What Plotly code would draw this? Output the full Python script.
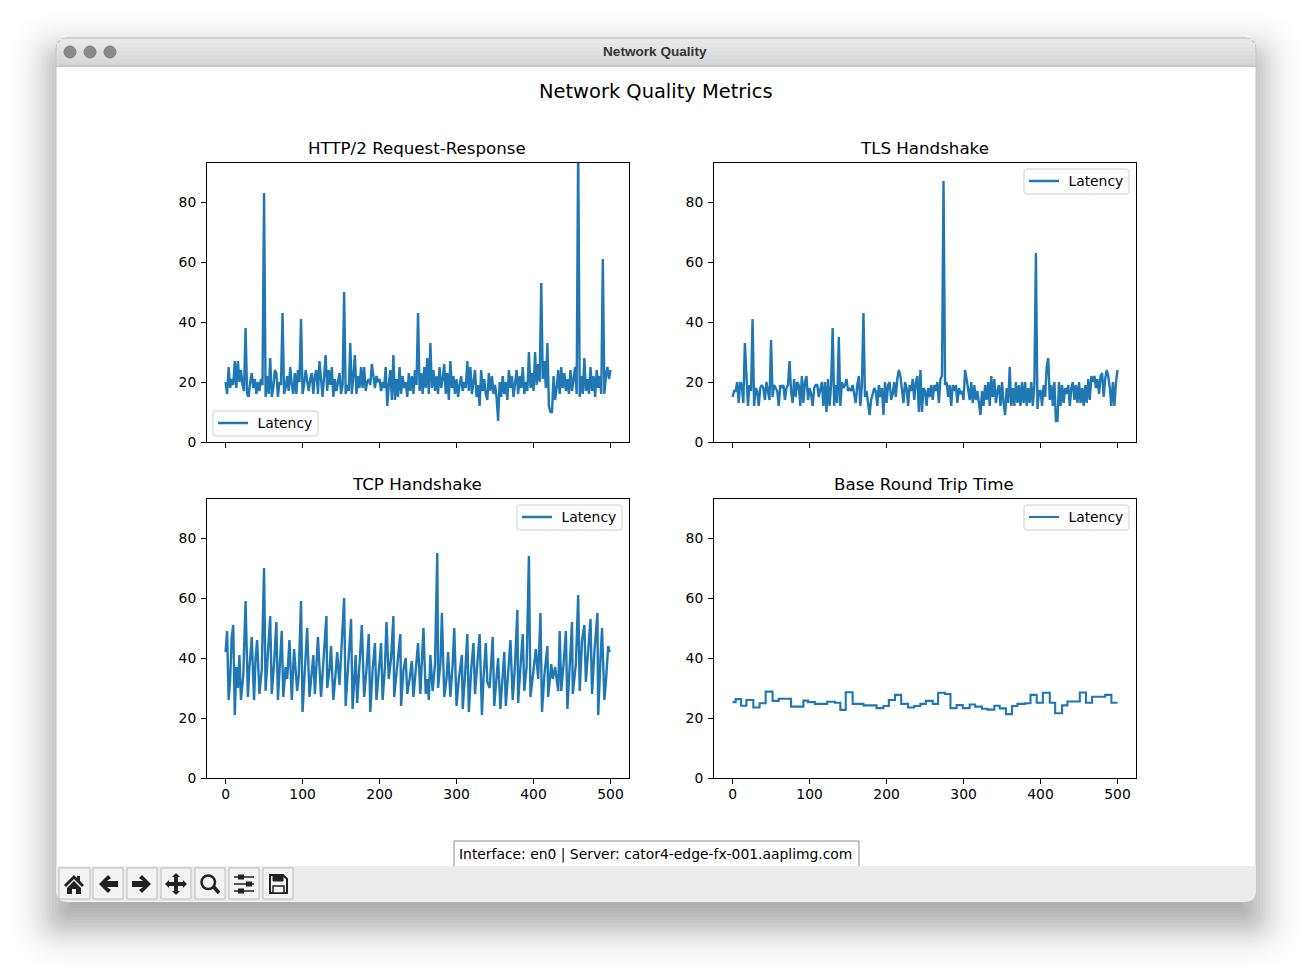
import re
import math
import numpy as np
import plotly.graph_objects as go

W, H = 1312, 976
BLUE = "#1f77b4"
FONT = "DejaVu Sans"

WINDOW_TITLE = "Network Quality"
SUPTITLE = "Network Quality Metrics"
PANEL_TITLES = ["HTTP/2 Request-Response", "TLS Handshake", "TCP Handshake", "Base Round Trip Time"]
SERIES_NAME = "\u00a0Latency"
STATUS = "Interface: en0 | Server: cator4-edge-fx-001.aaplimg.com"
X_TICKS = [0, 100, 200, 300, 400, 500]
Y_TICKS = [0, 20, 40, 60, 80]

# sampled every 2 units of x
HTTP_Y = [
    20,16,25,18,21, 19,27,18,27,20, 24,19,17,38,16, 15,20,23,18,21, 16,20,17,21,19,
    83,15,22,16,28, 15,18,24,23,15, 20,19,43,16,18, 22,17,25,19,16, 23,16,24,20,41,
    16,19,24,20,17, 21,23,16,22,24, 16,27,21,15,22, 29,17,24,19,25, 15,21,17,20,23,
    16,19,50,16,19, 17,33,16,22,29, 16,22,18,25,18, 25,17,20,21,19, 26,21,18,22,20,
    21,17,20,18,25, 12,19,24,14,29, 14,21,15,25,16, 22,18,20,15,23, 17,22,16,24,19,
    43,17,23,16,25, 18,28,16,33,18, 24,17,22,16,25, 18,21,26,16,23, 14,27,18,22,16,
    21,15,19,22,17, 20,18,27,17,25, 16,21,24,15,19, 12,24,17,21,16, 14,23,17,22,16,
    19,15,7,20,15, 22,16,20,14,24, 18,22,15,20,24, 16,22,18,25,16, 20,17,30,18,23,
    17,30,19,26,20, 53,21,27,18,33, 12,10,10,22,14, 18,24,16,25,18, 23,17,21,16,24,
    17,21,25,16,100, 15,22,16,28,17, 21,16,25,17,22, 15,24,18,22,16, 61,16,22,25,21, 24,
]
TLS_Y = [
    15,17,17,20,13, 20,19,13,33,21, 12,19,17,41,12, 18,17,12,18,19, 18,14,20,17,14,
    34,15,19,18,17, 12,19,18,19,14, 18,19,27,17,13, 21,15,20,19,12, 22,13,20,22,14,
    18,16,12,18,19, 19,15,18,20,12, 20,10,21,12,19, 38,12,19,13,35, 12,20,18,19,21,
    17,18,17,19,16, 13,19,22,12,19, 43,15,17,13,9, 14,16,18,17,12, 19,15,18,9,20,
    13,19,20,14,16, 20,15,21,24,22, 18,13,20,18,12, 19,17,21,14,20, 22,10,24,10,18,
    17,12,18,15,19, 14,19,17,20,13, 21,22,87,19,20, 15,19,12,19,17, 19,13,18,16,17,
    14,24,21,18,14, 20,13,19,14,17, 13,9,17,12,19, 14,20,12,22,15, 21,13,17,19,12,
    20,13,9,18,13, 25,12,18,12,20, 13,19,12,20,13, 20,12,18,13,20, 12,19,63,11,17,
    17,12,19,15,25, 28,14,19,12,20, 7,7,20,12,19, 13,18,16,19,12, 18,20,14,19,13,
    20,13,18,12,19, 13,21,14,22,20, 22,18,21,16,22, 23,15,21,24,22, 18,12,20,12,20, 24,
]
TCP_X = [
    0,2,4,6,8,10,12,14,16,18,
    20,23,26,29,31,34,37,39,41,44,
    47,50,52,55,58,60,63,66,68,71,
    73,75,78,80,83,86,89,93,95,98,
    100,103,106,109,112,114,116,118,120,124,
    127,131,132,135,137,140,143,145,148,151,
    154,156,159,163,165,167,169,171,174,177,
    180,183,186,188,191,194,196,199,202,204,
    207,209,212,215,218,219,223,227,228,231,
    234,236,239,242,244,247,250,253,255,257,
    260,262,264,266,269,272,275,276,279,281,
    284,287,289,292,295,297,300,303,307,308,
    311,314,316,319,322,324,327,330,333,335,
    338,340,343,347,349,352,354,357,360,362,
    364,367,370,373,376,379,380,383,386,388,
    391,394,396,400,403,406,409,411,414,418,
    419,423,425,428,432,434,436,439,442,444,
    447,450,451,455,458,460,463,466,468,471,
    474,476,479,483,484,487,489,492,494,497,
    499,
]
TCP_Y = [
    42,49,26,33,47,51,21,37,30,41,
    26,34,59,27,37,47,26,40,46,28,
    36,70,29,42,54,28,38,52,26,40,
    49,27,37,33,46,26,43,29,34,59,
    22,36,50,27,36,41,28,36,47,27,
    38,54,30,36,44,26,35,42,31,46,
    60,24,36,53,23,33,41,25,40,51,
    27,36,48,22,36,45,26,37,45,26,
    37,52,33,40,54,27,37,48,24,36,
    40,28,33,39,27,36,45,28,38,50,
    28,33,26,41,29,38,75,30,38,55,
    27,33,42,27,38,50,24,33,41,23,
    34,48,22,36,45,28,38,48,21,33,
    45,32,30,47,24,34,40,23,33,42,
    24,36,46,26,38,56,25,37,48,29,
    37,74,27,36,43,33,55,22,34,44,
    27,38,33,37,29,49,29,38,49,23,
    37,52,28,38,61,29,46,51,32,43,
    53,28,42,55,21,40,50,26,32,44,
    42,
]
BASE_X = [0,4,11,18,27,35,43,52,60,76,92,98,107,123,133,140,147,156,170,187,196,203,211,219,228,236,244,251,260,267,276,283,291,299,308,315,324,331,340,347,355,363,370,380,387,395,403,412,419,428,435,451,459,467,484,492,500]
BASE_Y = [25.3,26.3,24.1,26.0,23.5,24.9,28.8,25.7,26.4,23.8,25.8,25.3,24.7,25.4,25.1,22.7,28.6,24.7,24.2,23.3,24.0,26.0,27.7,24.7,23.5,24.0,24.7,25.7,24.7,28.4,28.0,23.3,24.3,23.3,24.5,23.8,23.1,22.8,24.1,23.2,21.3,24.0,24.7,24.9,27.7,25.1,28.4,25.1,21.6,24.2,25.5,28.5,25.1,27.1,27.7,25.1,25.1]

HTTP_X = np.arange(len(HTTP_Y)) * 2
TLS_X = np.arange(len(TLS_Y)) * 2

# plot-area rectangles, window pixels: left, right, top, bottom
PANELS = [(207, 629, 162.5, 442), (714, 1136, 162.5, 442), (207, 629, 498.5, 778), (714, 1136, 498.5, 778)]
LEGENDS = [(213, 318, 411, 436), (1024, 1129, 169, 194), (517, 622, 505, 530), (1024, 1129, 505, 530)]


def fx(x):
    return x / W


def fy(y):
    return 1 - y / H


def pp(d):
    out = []
    for tok in re.findall(r"[A-Za-z]|-?[\d.]+(?:\s+-?[\d.]+)", d):
        if tok.isalpha():
            out.append(tok)
        else:
            a, b = tok.split()
            out.append(f"{fx(float(a)):.5f},{fy(float(b)):.5f}")
    return " ".join(out)


def rrect_path(l, r, t, b, rad):
    return pp(f"M {l+rad} {t} L {r-rad} {t} Q {r} {t} {r} {t+rad} L {r} {b-rad} Q {r} {b} {r-rad} {b} "
              f"L {l+rad} {b} Q {l} {b} {l} {b-rad} L {l} {t+rad} Q {l} {t} {l+rad} {t} Z")


shapes = []


def add_path(d, fill=None, line=None, lw=0, layer="below", raw=False):
    s = dict(type="path", xref="paper", yref="paper", path=d if raw else pp(d), layer=layer,
             line=dict(color=line or "rgba(0,0,0,0)", width=lw))
    if fill:
        s["fillcolor"] = fill
    shapes.append(s)


def add_rect(l, r, t, b, fill, line=None, lw=0, layer="below"):
    shapes.append(dict(type="rect", xref="paper", yref="paper", x0=fx(l), x1=fx(r), y0=fy(b), y1=fy(t),
                       fillcolor=fill, layer=layer, line=dict(color=line or "rgba(0,0,0,0)", width=lw)))


# soft window shadow: stacked translucent rounded rectangles
for g in range(52, -38, -3):
    a = 0.024 * math.exp(-(g * g) / (2 * 23 * 23))
    add_path(rrect_path(56 - g, 1256 + g, 38 - g + 20, 902 + g + 20, max(4, 12 + g)),
             fill=f"rgba(0,0,0,{a:.4f})", raw=True)

# window body and title bar
add_path(rrect_path(56, 1256, 38, 902, 12), fill="#ffffff", line="#c4c4c4", lw=1, raw=True)
add_path("M 56 66 L 56 50 Q 56 38 68 38 L 1244 38 Q 1256 38 1256 50 L 1256 66 Z", fill="#dcdcdc", line="#c8c8c8", lw=1)
for i, c in enumerate(["#e8e8e8", "#e5e5e5", "#e2e2e2", "#dfdfdf", "#dcdcdc", "#d9d9d9", "#d6d6d6"]):
    y0 = 39 + i * 4
    l = 60 if i == 0 else 57
    add_rect(l, W - l, y0, y0 + 4, c)
add_rect(56, 1256, 65.5, 66.5, "#b8b8b8")
for cx in (70, 90, 110):
    shapes.append(dict(type="circle", xref="paper", yref="paper", x0=fx(cx - 6), x1=fx(cx + 6), y0=fy(58), y1=fy(46),
                       fillcolor="#8b8b8b", line=dict(color="#7c7c7c", width=1), layer="below"))

# status box, tucked under the toolbar
add_rect(454, 859, 841, 870, "#ffffff", line="#8c8c8c", lw=1)

# toolbar
add_path("M 56 866 L 1256 866 L 1256 890 Q 1256 902 1244 902 L 68 902 Q 56 902 56 890 Z", fill="#ececec")
for l, r in [(59, 90), (93, 123), (127, 157), (161, 191), (195, 225), (229, 259), (263, 293)]:
    add_rect(l, r, 868, 899, "#f3f3f3", line="#bdbdbd", lw=1)
INK = "#222222"
# home
add_path("M 64 885 L 74 875 L 77 878 L 77 876 L 80 876 L 80 881 L 84 885 L 82 887 L 74 879 L 66 887 Z", fill=INK)
add_path("M 67 888 L 74 881 L 81 888 L 81 894 L 76 894 L 76 889 L 72 889 L 72 894 L 67 894 Z", fill=INK)
# back / forward
add_path("M 99 884 L 108 875 L 111 878 L 107 881 L 118 881 L 118 887 L 107 887 L 111 890 L 108 893 Z", fill=INK)
add_path("M 151 884 L 142 875 L 139 878 L 143 881 L 132 881 L 132 887 L 143 887 L 139 890 L 142 893 Z", fill=INK)
# move
add_path("M 176 873 L 180 877 L 178 877 L 178 882 L 183 882 L 183 880 L 187 884 L 183 888 L 183 886 L 178 886 L 178 891 "
         "L 180 891 L 176 895 L 172 891 L 174 891 L 174 886 L 169 886 L 169 888 L 165 884 L 169 880 L 169 882 L 174 882 L 174 877 L 172 877 Z",
         fill=INK)
# zoom
shapes.append(dict(type="circle", xref="paper", yref="paper", x0=fx(201.5), x1=fx(215), y0=fy(889), y1=fy(875.5),
                   line=dict(color=INK, width=2.5), layer="below"))
add_path("M 213 886 L 219 893", line=INK, lw=3.5)
# sliders
for y, kx in [(877, 241), (884, 249), (891, 241)]:
    add_path(f"M 234 {y} L 254 {y}", line=INK, lw=1.5)
    add_rect(kx - 3, kx + 3, y - 2.5, y + 2.5, INK)
# save
add_path("M 270 875 L 283 875 L 287 879 L 287 893 L 270 893 Z", fill="#f3f3f3", line=INK, lw=2)
add_path("M 273 875 L 283 875 L 283 881 L 273 881 Z", fill=INK, line=INK, lw=1)
add_path("M 273 886 L 284 886 L 284 893 L 273 893 Z", fill="#f3f3f3", line=INK, lw=1.5)

# legend frames
for l, r, t, b in LEGENDS:
    add_path(rrect_path(l, r, t, b, 3), fill="rgba(255,255,255,0.8)", line="#d0d0d0", lw=1, layer="above", raw=True)

fig = go.Figure()
data = [(HTTP_X, HTTP_Y), (TLS_X, TLS_Y), (TCP_X, TCP_Y), (BASE_X, BASE_Y)]
layout = {}
for i, ((xs, ys), (l, r, t, b), (ll, lr, lt, lb)) in enumerate(zip(data, PANELS, LEGENDS)):
    n = "" if i == 0 else str(i + 1)
    fig.add_trace(go.Scatter(
        x=list(xs), y=list(ys), mode="lines", name=SERIES_NAME,
        line=dict(color=BLUE, width=2.1 if i == 3 else 2.4, shape="hv" if i == 3 else "linear"),
        xaxis=f"x{n}", yaxis=f"y{n}", legend=f"legend{n}", showlegend=True,
    ))
    ax = dict(showgrid=False, zeroline=False, showline=True, mirror=True, linecolor="#000000", linewidth=1,
              ticks="outside", ticklen=5, tickwidth=1, tickcolor="#000000",
              tickfont=dict(family=FONT, size=13.89, color="#000000"))
    layout[f"xaxis{n}"] = dict(ax, domain=[fx(l), fx(r)], range=[-24.1, 524], tickmode="array", tickvals=X_TICKS,
                               showticklabels=i >= 2, anchor=f"y{n}", ticklabelstandoff=-2)
    layout[f"yaxis{n}"] = dict(ax, domain=[fy(b), fy(t)], range=[0, (b - t) / 3], tickmode="array", tickvals=Y_TICKS,
                               anchor=f"x{n}", ticklabelstandoff=2)
    layout[f"legend{n}"] = dict(x=fx(ll), y=fy((lt + lb) / 2), xanchor="left", yanchor="middle", xref="paper", yref="paper",
                                bgcolor="rgba(0,0,0,0)", borderwidth=0,
                                font=dict(family=FONT, size=13.89, color="#000000"), itemclick=False, itemdoubleclick=False)

annotations = [
    dict(text=SUPTITLE, x=fx(656), y=fy(91), font=dict(size=19.44, family=FONT, color="#000000")),
    dict(text=WINDOW_TITLE, x=fx(655), y=fy(51), font=dict(size=13.6, family="Liberation Sans", color="#333333", weight="bold")),
    dict(text=STATUS, x=fx(655), y=fy(854), font=dict(size=13.89, family=FONT, color="#000000")),
]
for name, (l, r, t, b) in zip(PANEL_TITLES, PANELS):
    annotations.append(dict(text=name, x=fx((l + r) / 2 - 0.7), y=fy(t - 14.5), font=dict(size=16.67, family=FONT, color="#000000")))
for a in annotations:
    a.update(xref="paper", yref="paper", xanchor="center", yanchor="middle", showarrow=False)

fig.update_layout(width=W, height=H, autosize=False, margin=dict(l=0, r=0, t=0, b=0, autoexpand=False),
                  paper_bgcolor="#ffffff", plot_bgcolor="rgba(0,0,0,0)",
                  shapes=shapes, annotations=annotations, **layout)
RESET = ("var s='margin:0;padding:0;height:976px;overflow:hidden';"
         "document.documentElement.style.cssText=s;document.body.style.cssText=s;")
fig.write_html("out.html", config=dict(displayModeBar=False), post_script=RESET)
